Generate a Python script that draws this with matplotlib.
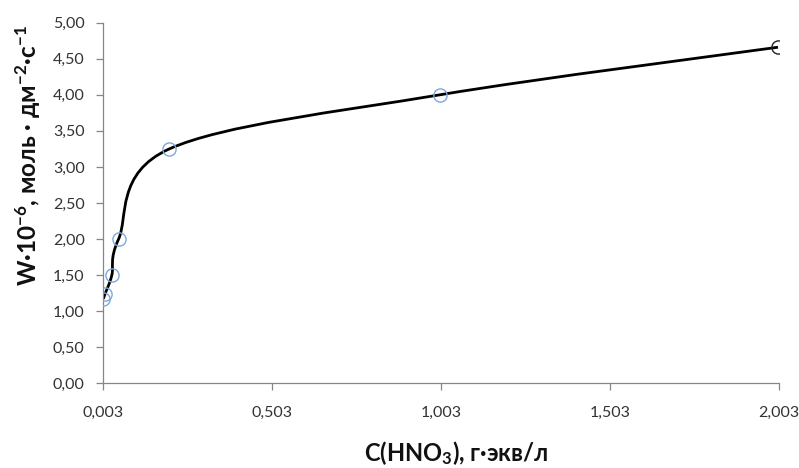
import numpy as np
import matplotlib
matplotlib.use("Agg")
import matplotlib.pyplot as plt
from matplotlib.path import Path
from matplotlib.patches import PathPatch
from matplotlib.ticker import FuncFormatter

plt.rcParams['font.family'] = ['Lato', 'DejaVu Sans']
plt.rcParams['mathtext.fontset'] = 'custom'
plt.rcParams['mathtext.rm'] = 'Lato:bold'
plt.rcParams['mathtext.it'] = 'Lato:bold'
plt.rcParams['mathtext.bf'] = 'Lato:bold'

# данные
conc = [0.005, 0.01, 0.03, 0.05, 0.2, 1.0, 2.0]      # C(HNO3), г-экв/л
rate = [1.17, 1.24, 1.50, 2.00, 3.25, 4.00, 4.66]    # W*10^-6

x_ticks = [0.003, 0.503, 1.003, 1.503, 2.003]
y_ticks = [0.0, 0.5, 1.0, 1.5, 2.0, 2.5, 3.0, 3.5, 4.0, 4.5, 5.0]


def smooth_path(xs, ys):
    # сглаженная линия как в Excel (кривые Безье по Катмулл-Рому)
    pts = np.column_stack([xs, ys])
    n = len(pts)
    verts = [pts[0]]
    codes = [Path.MOVETO]
    for i in range(n - 1):
        p0 = pts[i - 1] if i > 0 else pts[i]
        p1 = pts[i]
        p2 = pts[i + 1]
        p3 = pts[i + 2] if i + 2 < n else pts[i + 1]
        c1 = p1 + (p2 - p0) / 6.0
        c2 = p2 - (p3 - p1) / 6.0
        verts += [c1, c2, p2]
        codes += [Path.CURVE4] * 3
    return Path(verts, codes)


fig = plt.figure(figsize=(7.99, 4.68), dpi=100)
ax = fig.add_axes([102.7 / 799, (468 - 383.3) / 468, (779 - 102.7) / 799, (383.3 - 22.7) / 468])

ax.add_patch(PathPatch(smooth_path(conc, rate), fill=False, lw=2.0,
                       edgecolor='black', zorder=2))
ax.plot(conc[:-1], rate[:-1], 'o', ms=9.5, mfc='none', mec='#7FA7DB', mew=1.0, zorder=3)
ax.plot(conc[-1:], rate[-1:], 'o', ms=9.5, mfc='none', mec='#222222', mew=1.0, zorder=3)

ax.set_xlim(x_ticks[0], x_ticks[-1])
ax.set_ylim(y_ticks[0], y_ticks[-1])
ax.set_xticks(x_ticks)
ax.set_yticks(y_ticks)
ax.xaxis.set_major_formatter(FuncFormatter(lambda v, p: ('%.3f' % v).replace('.', ',')))
ax.yaxis.set_major_formatter(FuncFormatter(lambda v, p: ('%.2f' % v).replace('.', ',')))

for s in ['top', 'right']:
    ax.spines[s].set_visible(False)
for s in ['left', 'bottom']:
    ax.spines[s].set_color('#868686')
    ax.spines[s].set_linewidth(0.9)
ax.tick_params(axis='both', direction='out', length=5, width=0.9, color='#868686',
               labelsize=11.5, labelcolor='#333333')
ax.tick_params(axis='x', pad=11)
ax.tick_params(axis='y', pad=8)

fig.text(456 / 799, 1 - 453 / 468, r'C(HNO$_3$), г·экв/л', ha='center', va='center',
         fontsize=17, fontweight='bold', color='#111111')
fig.text(28 / 799, 1 - 156 / 468, r'W·10$^{-6}$, моль · дм$^{-2}$·с$^{-1}$', ha='center',
         va='center', rotation=90, fontsize=17.5, fontweight='bold', color='#111111')

fig.savefig('out.png', dpi=100)
